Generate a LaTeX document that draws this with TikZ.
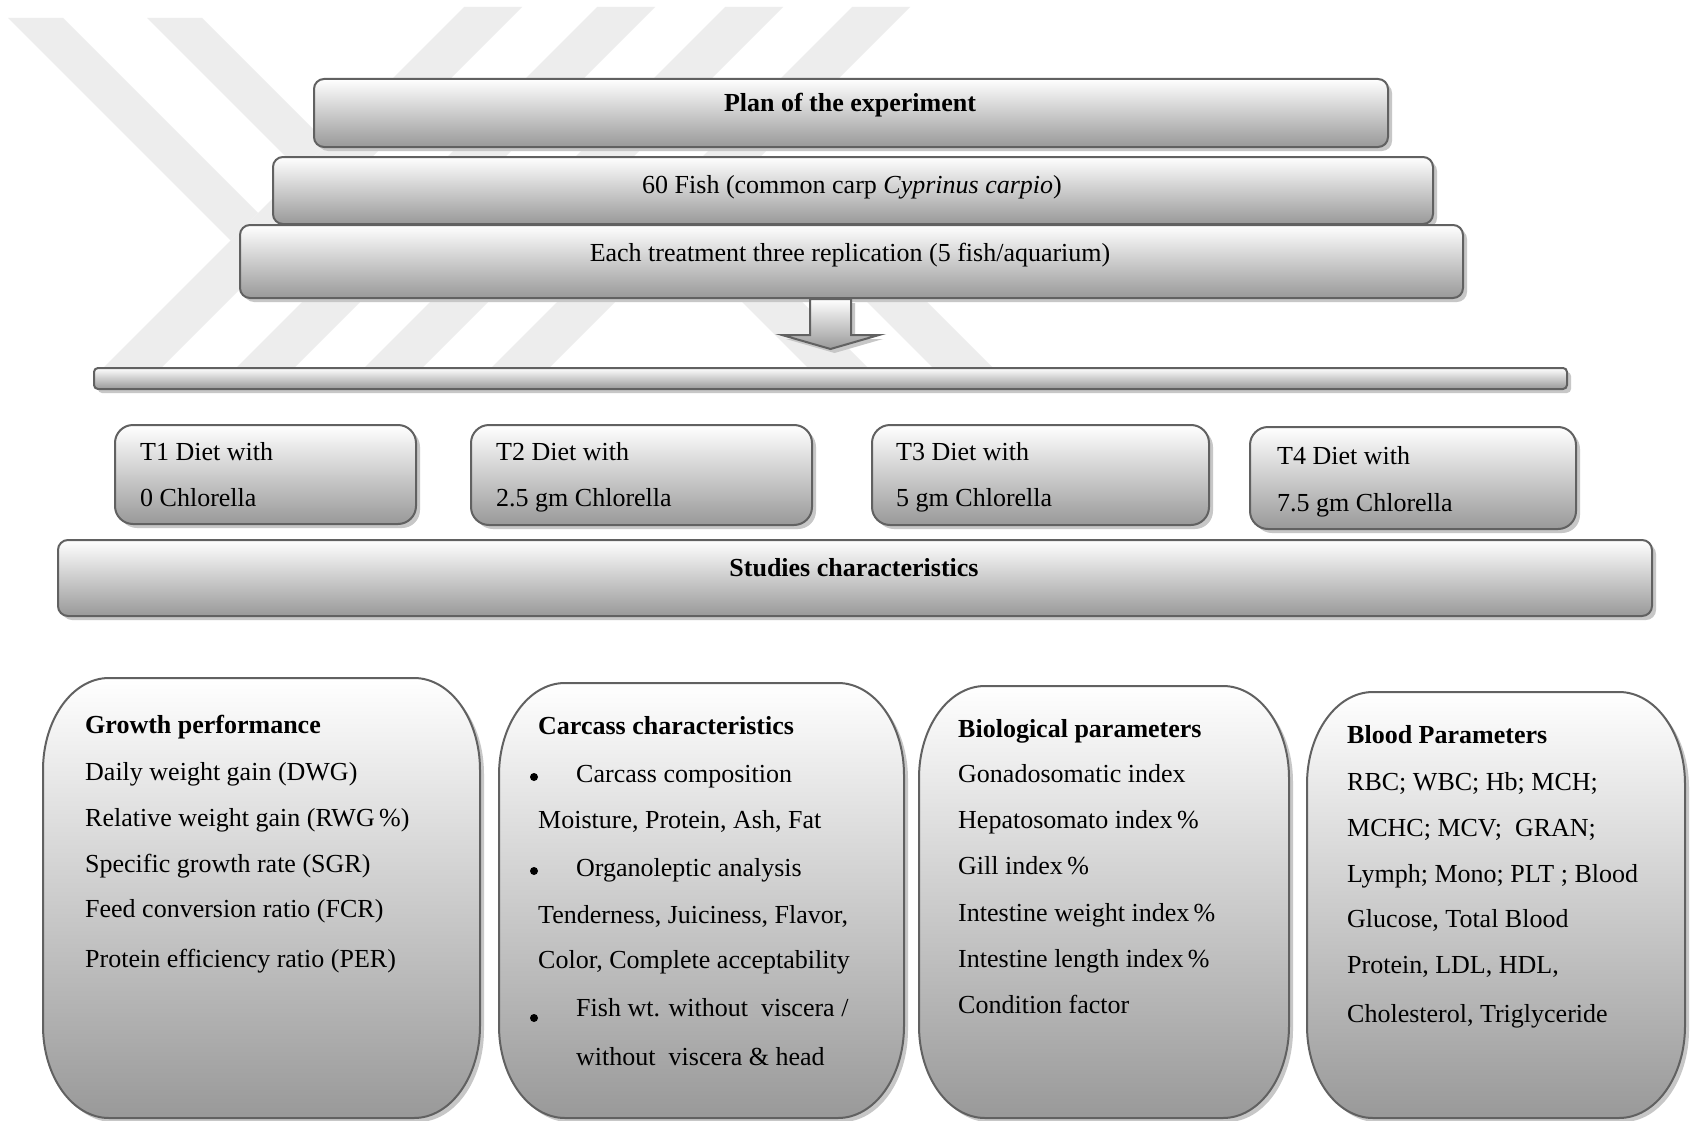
\documentclass[tikz,border=0pt]{standalone}
\usepackage{fontspec}
\setmainfont{Liberation Serif}
\usetikzlibrary{shadows,calc}
\tikzset{
  wm/.style={fill=black!7},
  shade box/.style={draw=black!62, line width=2pt, top color=white, bottom color=black!40,
     drop shadow={shadow xshift=4pt, shadow yshift=-4pt, fill=black!22, opacity=1}},
  flatbox/.style={shade box, rounded corners=10pt, inner sep=0pt, anchor=north west},
  dietbox/.style={shade box, rounded corners=18pt, inner sep=0pt, anchor=north west},
  txt/.style={inner sep=0pt, font=\fontsize{26}{30}\selectfont},
  ltxt/.style={txt, anchor=base west},
  ctxt/.style={txt, anchor=base},
  btxt/.style={ltxt, font=\fontsize{26}{30}\selectfont\bfseries},
  bctxt/.style={ctxt, font=\fontsize{26}{30}\selectfont\bfseries},
  dot/.style={circle, fill=black, inner sep=0pt, minimum size=8pt},
}
\newcommand\rndpanel[5]{%
  \path[shade box] (#2+66,#3) -- (#4-66,#3)
    arc[start angle=270, end angle=360, x radius=66, y radius=92] -- (#4,#5-92)
    arc[start angle=0, end angle=90, x radius=66, y radius=92] -- (#2+66,#5)
    arc[start angle=90, end angle=180, x radius=66, y radius=92] -- (#2,#3+92)
    arc[start angle=180, end angle=270, x radius=66, y radius=92] -- cycle;
  \coordinate (#1) at ($(#2,#3)!0.5!(#4,#5)$);
}
\begin{document}
\begin{tikzpicture}[x=1pt,y=-1pt]
\useasboundingbox[fill=white] (0,0) rectangle (1691,1121);
% watermark
\foreach \xt in {464,597,725,852}
  \fill[wm] (\xt,7) -- (\xt+58,7) -- (\xt+58-370,377) -- (\xt-370,377) -- cycle;
\fill[wm] (8,18) -- (63,18) -- (258,213) -- (230.5,240.5) -- cycle;
\fill[wm] (147,18) -- (202,18) -- (327.5,143.5) -- (300,171) -- cycle;
\fill[wm] (670,230) -- (730,230) -- (877,377) -- (817,377) -- cycle;
\fill[wm] (795,230) -- (855,230) -- (1002,377) -- (942,377) -- cycle;

% top stack
\node[flatbox, minimum width=1074pt, minimum height=68pt] (plan) at (313,78) {};
\node[flatbox, minimum width=1160pt, minimum height=67pt] (fish) at (272,156) {};
\node[flatbox, minimum width=1223pt, minimum height=73pt] (treat) at (239,224) {};
\node[bctxt] (plant) at (850,112) {Plan of the experiment};
\node[ctxt] (fisht) at (852,193) {60 Fish (common carp \textit{Cyprinus carpio})};
\node[ctxt] (treatt) at (850,261) {Each treatment three replication (5 fish/aquarium)};

% bar and arrow
\node[flatbox, rounded corners=4pt, minimum width=1473pt, minimum height=21pt] (bar) at (93,367) {};
\coordinate (arS) at (830.5,0 |- treat.south);
\coordinate (arE) at (830.5,0 |- bar.north);
\path[shade box, line join=miter] ($(arS)+(-20.5,0)$) -- ($(arS)+(20.5,0)$) -- ($(arS)+(20.5,36)$)
   -- ($(arS)+(48.5,36)$) -- ($(arE)+(0,-18)$) -- ($(arS)+(-48.5,36)$) -- ($(arS)+(-20.5,36)$) -- cycle;

% diet boxes
\node[dietbox, minimum width=301pt, minimum height=99pt] (t1) at (114,424) {};
\node[dietbox, minimum width=341pt, minimum height=100pt] (t2) at (470,424) {};
\node[dietbox, minimum width=337pt, minimum height=100pt] (t3) at (871,424) {};
\node[dietbox, minimum width=326pt, minimum height=102pt] (t4) at (1249,426) {};
\node[ltxt] (t1a) at (140,460) {T1 Diet with};
\node[ltxt] (t1b) at (140,506) {0 Chlorella};
\node[ltxt] (t2a) at (496,460) {T2 Diet with};
\node[ltxt] (t2b) at (496,506) {2.5 gm Chlorella};
\node[ltxt] (t3a) at (896,460) {T3 Diet with};
\node[ltxt] (t3b) at (896,506) {5 gm Chlorella};
\node[ltxt] (t4a) at (1277,464) {T4 Diet with};
\node[ltxt] (t4b) at (1277,511) {7.5 gm Chlorella};

% studies
\node[flatbox, minimum width=1594pt, minimum height=76pt] (stud) at (57,539) {};
\node[bctxt] (studt) at (854,576) {Studies characteristics};

% bottom panels
\rndpanel{growth}{43}{678}{480}{1118}
\rndpanel{carcass}{499}{683}{904}{1118}
\rndpanel{bio}{919}{686}{1289}{1118}
\rndpanel{blood}{1307}{692}{1685}{1118}

\node[btxt] (gh) at (85,733) {Growth performance};
\foreach \py/\ptext in {780/{Daily weight gain (DWG)}, 826/{Relative weight gain (RWG\,\%)},
   872/{Specific growth rate (SGR)}, 917/{Feed conversion ratio (FCR)}, 967/{Protein efficiency ratio (PER)}}
  \node[ltxt] (g\py) at (85,\py) {\ptext};

\node[btxt] (ch) at (538,734) {Carcass characteristics};
\node[dot] (cb1) at (534,777) {};
\node[ltxt] (c1) at (576,782) {Carcass composition};
\node[ltxt] (c2) at (538,828) {Moisture, Protein, Ash, Fat};
\node[dot] (cb2) at (534,871) {};
\node[ltxt] (c3) at (576,876) {Organoleptic analysis};
\node[ltxt] (c4) at (538,923) {Tenderness, Juiciness, Flavor,};
\node[ltxt] (c5) at (538,968) {Color, Complete acceptability};
\node[dot] (cb3) at (534,1018) {};
\node[ltxt] (c6) at (576,1016) {Fish wt. without\ \ viscera /};
\node[ltxt] (c7) at (576,1065) {without\ \ viscera \& head};

\node[btxt] (bh) at (958,737) {Biological parameters};
\foreach \py/\ptext in {782/{Gonadosomatic index}, 828/{Hepatosomato index\,\%}, 874/{Gill index\,\%},
   921/{Intestine weight index\,\%}, 967/{Intestine length index\,\%}, 1013/{Condition factor}}
  \node[ltxt] (b\py) at (958,\py) {\ptext};

\node[btxt] (lh) at (1347,743) {Blood Parameters};
\foreach \py/\ptext in {790/{RBC; WBC; Hb; MCH;}, 836/{MCHC; MCV;\ \ GRAN;}, 882/{Lymph; Mono; PLT ; Blood},
   927/{Glucose, Total Blood}, 973/{Protein, LDL, HDL,}, 1022/{Cholesterol, Triglyceride}}
  \node[ltxt] (l\py) at (1347,\py) {\ptext};
\end{tikzpicture}
\end{document}
